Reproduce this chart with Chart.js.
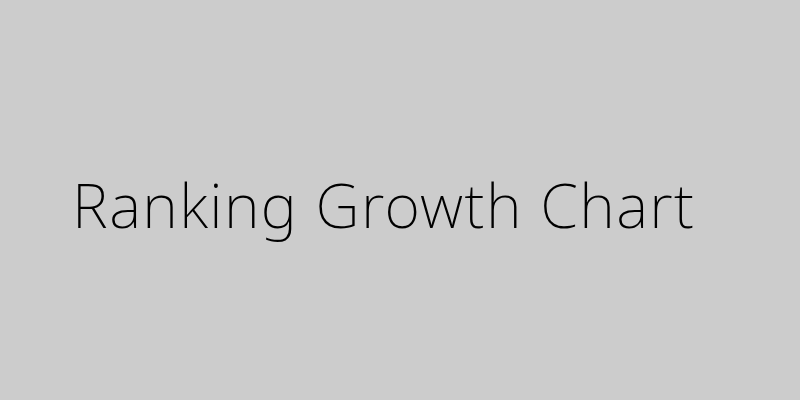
<!DOCTYPE html>
<html>
<head>
<meta charset="utf-8">
<script src="https://cdn.jsdelivr.net/npm/chart.js@4"></script>
<style>
html,body{margin:0;padding:0;background:#cccccc;}
#wrap{width:800px;height:400px;}
</style>
</head>
<body>
<div id="wrap"><canvas id="c" width="800" height="400"></canvas></div>
<script>
const chartTitle = "Ranking Growth Chart";
const categories = [];
const seriesValues = [];

const bgPlugin = {
  id: 'bg',
  beforeDraw(chart) {
    const ctx = chart.ctx;
    ctx.fillStyle = '#cccccc';
    ctx.fillRect(0, 0, chart.width, chart.height);
    ctx.letterSpacing = '1.4px';
  }
};

new Chart(document.getElementById('c'), {
  type: 'bar',
  data: { labels: categories, datasets: [{ data: seriesValues }] },
  options: {
    responsive: false,
    animation: false,
    layout: { padding: { left: 72, top: 0, right: 0, bottom: 0 } },
    scales: { x: { display: false }, y: { display: false } },
    plugins: {
      legend: { display: false },
      tooltip: { enabled: false },
      title: {
        display: true,
        text: chartTitle,
        align: 'start',
        color: '#000000',
        font: { family: '"Noto Sans"', size: 61, weight: 200 },
        padding: { top: 174, bottom: 0 }
      }
    }
  },
  plugins: [bgPlugin]
});
</script>
</body>
</html>
